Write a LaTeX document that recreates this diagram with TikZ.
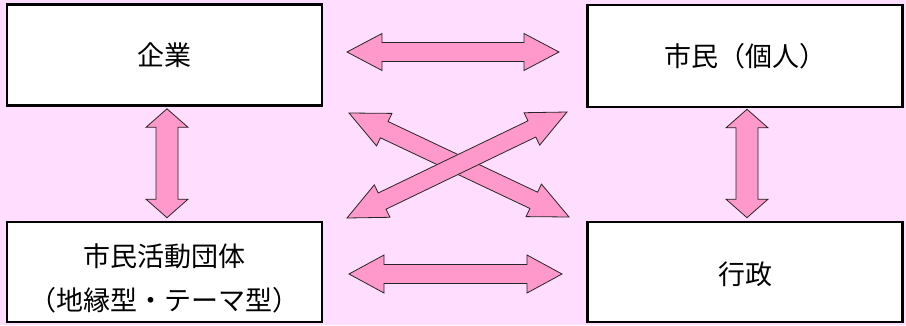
\documentclass[tikz,border=0pt]{standalone}
\usepackage{fontspec}
\setmainfont{Noto Sans CJK JP}
\usetikzlibrary{calc}
\definecolor{bgpink}{RGB}{255,221,255}
\definecolor{arrpink}{RGB}{255,153,204}
\tikzset{
  box/.style={draw=black, line width=2.6pt, fill=white, minimum width=315pt, inner sep=0pt, align=center, font=\fontsize{27}{45}\selectfont},
  blockarr/.style={draw=black!85, line width=0.8pt, fill=arrpink, line join=miter}
}
% #1 tip A, #2 tip B, #3 head length, #4 half head width, #5 half shaft width
\newcommand\dblarrow[5]{%
  \draw[blockarr] (#1)
    -- ($(#1)!#3!(#2)!#4!90:(#2)$)
    -- ($(#1)!#3!(#2)!#5!90:(#2)$)
    -- ($(#2)!#3!(#1)!#5!-90:(#1)$)
    -- ($(#2)!#3!(#1)!#4!-90:(#1)$)
    -- (#2)
    -- ($(#2)!#3!(#1)!#4!90:(#1)$)
    -- ($(#2)!#3!(#1)!#5!90:(#1)$)
    -- ($(#1)!#3!(#2)!#5!-90:(#2)$)
    -- ($(#1)!#3!(#2)!#4!-90:(#2)$)
    -- cycle;}
\begin{document}
\begin{tikzpicture}[x=1pt, y=-1pt]
\fill[bgpink] (0,0) rectangle (906,325);
\useasboundingbox (0,0) rectangle (906,325);

\node[box, minimum height=101pt] (kigyo) at (164.5,55) {企業};
\node[box, minimum height=102pt] (shimin) at (745,56) {市民（個人）};
\node[box, minimum height=100pt] (dantai) at (164.5,272) {\raisebox{-14pt}[0pt][0pt]{\begin{tabular}{@{}c@{}}市民活動団体\\[-1pt]（地縁型・テーマ型）\end{tabular}}};
\node[box, minimum height=100pt] (gyosei) at (745,272) {\raisebox{-12pt}[0pt][0pt]{行政}};

% horizontal arrow tips
\coordinate (h1a) at (347,52);
\coordinate (h1b) at (559,52);
\coordinate (h2a) at (349,274);
\coordinate (h2b) at (562,274);
% vertical arrow tips
\coordinate (v1a) at ($(kigyo.south)+(2.5,2)$);
\coordinate (v1b) at ($(dantai.north)+(2.5,-3)$);
\coordinate (v2a) at ($(shimin.south)+(2,1)$);
\coordinate (v2b) at ($(gyosei.north)+(2,-3)$);
% diagonal arrow tips
\coordinate (d1a) at (349,113);
\coordinate (d1b) at (569,217);
\coordinate (d2a) at (347,218);
\coordinate (d2b) at (567,112);

\dblarrow{h1a}{h1b}{35pt}{18.5pt}{9.5pt}
\dblarrow{h2a}{h2b}{35pt}{19pt}{9.5pt}
\dblarrow{v1a}{v1b}{18.5pt}{21pt}{11pt}
\dblarrow{v2a}{v2b}{18.5pt}{21pt}{11pt}
\dblarrow{d1a}{d1b}{39pt}{18pt}{9pt}
\dblarrow{d2a}{d2b}{39pt}{18pt}{9pt}
\end{tikzpicture}
\end{document}
